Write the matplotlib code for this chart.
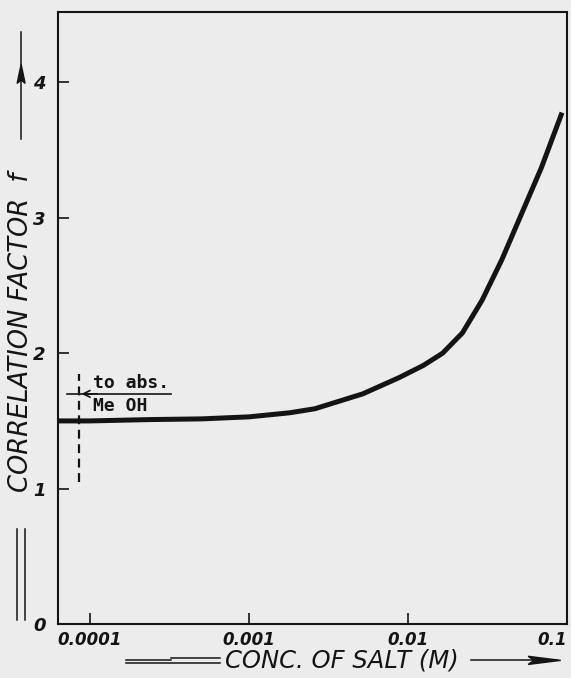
import matplotlib.pyplot as plt
from matplotlib.lines import Line2D

# curve (log x axis)
conc = [6.3e-5, 1e-4, 2.4e-4, 5e-4, 1e-3, 1.8e-3, 2.6e-3, 5.2e-3, 8.8e-3, 0.0125,
        0.0165, 0.022, 0.0292, 0.0389, 0.0518, 0.069, 0.0919]
factor = [1.50, 1.50, 1.51, 1.515, 1.53, 1.56, 1.59, 1.70, 1.82, 1.91,
          2.00, 2.15, 2.39, 2.69, 3.03, 3.37, 3.76]

xticks = [1e-4, 1e-3, 1e-2, 1e-1]
xticklabels = ["0.0001", "0.001", "0.01", "0.1"]
yticks = [0, 1, 2, 3, 4]

# absolute MeOH marker
meoh_x = 8.5e-5
meoh_y = (1.05, 1.85)

INK = "#141414"
PAPER = "#ececec"

fig = plt.figure(figsize=(5.71, 6.78), dpi=100, facecolor=PAPER)
ax = fig.add_axes([0.1016, 0.0796, 0.8914, 0.9027], facecolor=PAPER)

ax.set_xscale("log")
ax.set_xlim(6.3e-5, 0.0919)
ax.set_ylim(0, 4.52)

ax.plot(conc, factor, color=INK, linewidth=3.6, solid_capstyle="projecting")

# dashed vertical marker and arrow "to abs. MeOH"
ax.plot([meoh_x, meoh_x], meoh_y, color=INK, linewidth=1.6, linestyle=(0, (4, 2.5)))
ax.plot([7.2e-5, 3.25e-4], [1.70, 1.70], color=INK, linewidth=1.2)
ax.annotate("", xy=(meoh_x, 1.70), xytext=(1.15e-4, 1.70),
            arrowprops=dict(arrowstyle="->", color=INK, lw=1.2, mutation_scale=12))
ax.text(1.04e-4, 1.715, "to abs.", fontsize=13, fontweight="bold",
        family="DejaVu Sans Mono", color=INK, va="bottom", ha="left")
ax.text(1.04e-4, 1.68, "Me OH", fontsize=13, fontweight="bold",
        family="DejaVu Sans Mono", color=INK, va="top", ha="left")

ax.set_xticks(xticks)
ax.set_xticklabels(xticklabels)
ax.xaxis.set_minor_locator(plt.NullLocator())
ax.set_yticks(yticks)
ax.tick_params(direction="in", length=8, width=1.2, colors=INK, pad=5)
ax.tick_params(axis="y", pad=9)
for lab in ax.get_xticklabels():
    lab.set_fontstyle("italic")
    lab.set_fontweight("bold")
    lab.set_fontsize(12)
for lab in ax.get_yticklabels():
    lab.set_fontstyle("italic")
    lab.set_fontweight("bold")
    lab.set_fontsize(13)
ax.get_xticklabels()[-1].set_ha("right")

for sp in ax.spines.values():
    sp.set_color(INK)
    sp.set_linewidth(1.5)

# axis titles with their decorative arrows
fig.text(0.394, 0.026, "CONC. OF SALT (M)", fontsize=17.5, fontstyle="italic",
         color=INK, ha="left", va="center")
fig.text(0.036, 0.51, "CORRELATION FACTOR  f", fontsize=18.5, fontstyle="italic",
         color=INK, rotation=90, ha="center", va="center")

fig.add_artist(Line2D([0.30, 0.385], [0.030, 0.030], color=INK, lw=1.1))
fig.add_artist(Line2D([0.22, 0.385], [0.022, 0.022], color=INK, lw=1.1))
fig.add_artist(Line2D([0.22, 0.30], [0.026, 0.026], color=INK, lw=1.1))
fig.add_artist(Line2D([0.825, 0.975], [0.026, 0.026], color=INK, lw=1.1))
fig.patches.append(plt.Polygon([[0.982, 0.026], [0.925, 0.032], [0.935, 0.026], [0.925, 0.020]],
                               closed=True, color=INK, transform=fig.transFigure, figure=fig))

fig.add_artist(Line2D([0.030, 0.030], [0.085, 0.22], color=INK, lw=1.1))
fig.add_artist(Line2D([0.043, 0.043], [0.085, 0.22], color=INK, lw=1.1))
fig.add_artist(Line2D([0.037, 0.037], [0.795, 0.953], color=INK, lw=1.1))
fig.patches.append(plt.Polygon([[0.037, 0.905], [0.030, 0.877], [0.037, 0.882], [0.044, 0.877]],
                               closed=True, color=INK, transform=fig.transFigure, figure=fig))

fig.savefig("out.png", dpi=100, facecolor=PAPER)
